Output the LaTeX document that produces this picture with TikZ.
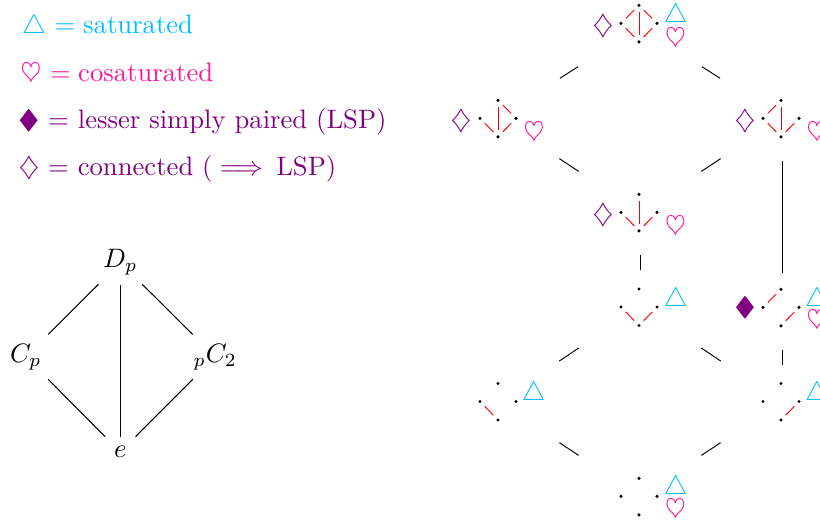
\documentclass[tikz,border=0pt]{standalone}
\usepackage{amsmath,amssymb,graphicx}
\definecolor{sat}{RGB}{0,191,255}
\definecolor{cosat}{RGB}{255,20,147}
\definecolor{lsp}{RGB}{128,0,128}
\newcommand{\graphdots}[3]{%
  \node[dotn] (#1t) at (#2,#3-18) {};
  \node[dotn] (#1l) at (#2-18,#3) {};
  \node[dotn] (#1r) at (#2+18,#3) {};
  \node[dotn] (#1b) at (#2,#3+18.5) {};
}
\tikzset{
  dotn/.style={circle,fill=black,inner sep=0pt,minimum size=1.3pt},
  rel/.style={red,line width=0.36pt,shorten >=1.7pt,shorten <=1.7pt},
  conn/.style={black,line width=0.36pt},
  diag/.style={conn,shorten >=27.6pt,shorten <=27.6pt},
  vert/.style={conn,shorten <=16pt,shorten >=14pt},
  sym/.style={inner sep=0pt,outer sep=0pt},
  legend/.style={anchor=base west,inner sep=0pt},
  lab/.style={inner sep=1pt},
  edge/.style={black,line width=0.4pt}
}
\newcommand{\satS}{\textcolor{sat}{$\triangle$}}
\newcommand{\cosS}{\textcolor{cosat}{$\heartsuit$}}
\newcommand{\conS}{\textcolor{lsp}{$\diamondsuit$}}
\newcommand{\bigLoz}{\scalebox{1.2}[1]{$\blacklozenge$}}
\newcommand{\lspS}{\textcolor{lsp}{\bigLoz}}
\begin{document}
\begin{tikzpicture}[x=0.375pt,y=-0.375pt]
\useasboundingbox (0,0) rectangle (820,523);
% legend
\node[legend,text=sat] (l1) at (21.5,34) {$\triangle$ = \hspace{-0.4pt}saturated};
\node[legend,text=cosat] (l2) at (20,82) {$\heartsuit$ = \hspace{-0.6pt}cosaturated};
\node[legend,text=lsp] (l3) at (17.5,129) {\bigLoz\ = lesser simply paired (LSP)};
\node[legend,text=lsp] (l4) at (18,176) {$\diamondsuit$ = connected ($\implies$\hspace{-1.1pt} LSP)};
% small lattice
\node[lab] (D) at (120.3,262.5) {$D_p$};
\node[lab] (C) at (25.8,356.8) {$C_p$};
\node[lab] (P) at (215.2,356.8) {${}_pC_2$};
\node[lab] (E) at (120.3,452) {$e$};
\draw[edge,shorten <=11.6pt,shorten >=11.9pt] (D.center) -- (C.center);
\draw[edge,shorten <=8.3pt,shorten >=5.7pt] (D.center) -- (E.center);
\draw[edge,shorten <=11.6pt,shorten >=11.9pt] (D.center) -- (P.center);
\draw[edge,shorten <=11.9pt,shorten >=8.1pt] (C.center) -- (E.center);
\draw[edge,shorten <=11.9pt,shorten >=8.1pt] (P.center) -- (E.center);
% graph centres
\coordinate (hubA) at (640,27);
\coordinate (hubB) at (498,118);
\coordinate (hubC) at (782,118);
\coordinate (hubD) at (640,212);
\coordinate (hubE) at (640,307);
\coordinate (hubF) at (782,307);
\coordinate (hubG) at (498,402);
\coordinate (hubH) at (782,402);
\coordinate (hubI) at (640,496);
% graph 1
\graphdots{a}{639}{23.3}
\draw[rel] (at)--(al); \draw[rel] (at)--(ar); \draw[rel] (al)--(ab); \draw[rel] (ar)--(ab); \draw[rel] (at)--(ab);
\node[sym] (as1) at (603,26) {\conS}; \node[sym] (as2) at (675.6,16) {\satS}; \node[sym] (as3) at (675.6,39) {\cosS};
% graph 2
\graphdots{b}{498}{118.3}
\draw[rel] (bt)--(br); \draw[rel] (bl)--(bb); \draw[rel] (br)--(bb); \draw[rel] (bt)--(bb);
\node[sym] (bs1) at (461,121) {\conS}; \node[sym] (bs3) at (534,133) {\cosS};
% graph 3
\graphdots{c}{781}{118.3}
\draw[rel] (ct)--(cl); \draw[rel] (cl)--(cb); \draw[rel] (cr)--(cb); \draw[rel] (ct)--(cb);
\node[sym] (cs1) at (745,121) {\conS}; \node[sym] (cs3) at (817,133) {\cosS};
% graph 4
\graphdots{d}{639}{212.3}
\draw[rel] (dl)--(db); \draw[rel] (dr)--(db); \draw[rel] (dt)--(db);
\node[sym] (ds1) at (603,215) {\conS}; \node[sym] (ds3) at (675.6,227) {\cosS};
% graph 5
\graphdots{e}{639}{307}
\draw[rel] (el)--(eb); \draw[rel] (er)--(eb);
\node[sym] (es2) at (675.6,300) {\satS};
% graph 6
\graphdots{f}{781}{307.3}
\draw[rel] (fl)--(ft); \draw[rel] (fb)--(fr);
\node[sym] (fs1) at (745,308) {\lspS}; \node[sym] (fs2) at (817,300) {\satS}; \node[sym] (fs3) at (817,321) {\cosS};
% graph 7
\graphdots{g}{498}{401.5}
\draw[rel] (gl)--(gb);
\node[sym] (gs2) at (533.7,394) {\satS};
% graph 8
\graphdots{h}{781}{401.5}
\draw[rel] (hb)--(hr);
\node[sym] (hs2) at (817,394) {\satS};
% graph 9
\graphdots{i}{639}{496.3}
\node[sym] (is2) at (675.6,488) {\satS}; \node[sym] (is3) at (675.6,510) {\cosS};
% connectors
\draw[diag] (hubA)--(hubB);
\draw[diag] (hubA)--(hubC);
\draw[diag] (hubB)--(hubD);
\draw[diag] (hubC)--(hubD);
\draw[vert] (hubD)--(hubE);
\draw[conn,shorten <=16pt,shorten >=12.7pt] (hubC)--(hubF);
\draw[diag] (hubE)--(hubG);
\draw[diag] (hubE)--(hubH);
\draw[vert] (hubF)--(hubH);
\draw[diag] (hubG)--(hubI);
\draw[diag] (hubH)--(hubI);
\end{tikzpicture}
\end{document}
